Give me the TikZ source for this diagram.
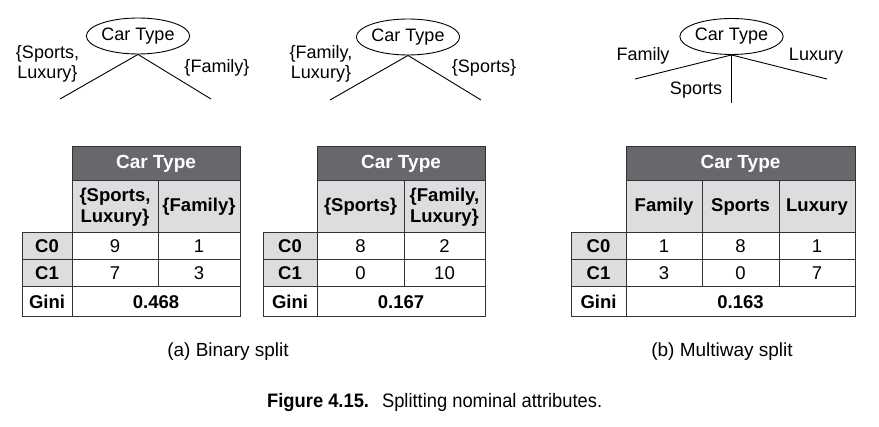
\documentclass[tikz,border=0pt]{standalone}
\usepackage{fontspec}
\setmainfont{Liberation Sans}
\newfontfamily\capfont[FakeStretch=0.94]{Liberation Sans}
\usetikzlibrary{shapes.geometric}
\definecolor{hdr}{HTML}{67686C}
\definecolor{sub}{HTML}{DCDDDF}
\definecolor{bord}{HTML}{333333}
\newcommand\mkcell[7]{\node[#6, minimum width={(#4-#2)*1pt}, minimum height={(#5-#3)*1pt}] (#1) at ({(#2+#4)/2},{(#3+#5)/2}) {#7};}
\begin{document}
\begin{tikzpicture}[x=1pt,y=-1pt,
  lbl/.style={font=\fontsize{18}{20.5}\selectfont, align=center, inner sep=0},
  rootnode/.style={ellipse, draw, line width=0.9pt, minimum width=100pt, minimum height=36pt, inner sep=0, font=\fontsize{18}{20}\selectfont},
  branch/.style={line width=0.9pt},
  cellbox/.style={draw=bord, line width=1pt, inner sep=0, outer sep=0, align=center, font=\fontsize{18.5}{20.5}\selectfont},
  hd/.style={cellbox, fill=hdr, text=white, font=\bfseries\fontsize{19}{20.5}\selectfont},
  sb/.style={cellbox, fill=sub, font=\bfseries\fontsize{18.5}{20.5}\selectfont},
  rl/.style={cellbox, fill=sub, font=\bfseries\fontsize{18.5}{20.5}\selectfont},
  gl/.style={cellbox, fill=white, font=\bfseries\fontsize{18.5}{20.5}\selectfont},
  val/.style={cellbox, fill=white},
  gv/.style={cellbox, fill=white, font=\bfseries\fontsize{18.5}{20.5}\selectfont},
  captext/.style={inner sep=0, font=\fontsize{19}{21}\selectfont}
]
\useasboundingbox (0,0) rectangle (879,427);

% ---- Tree 1
\node[rootnode] (r1) at (138,36) {Car Type};
\coordinate (t1l) at (60,99);
\coordinate (t1r) at (211,99);
\draw[branch] (r1.south) -- (t1l);
\draw[branch] (r1.south) -- (t1r);
\node[lbl] (l1a) at (47.5,64) {\{Sports,\\Luxury\}};
\node[lbl] (l1b) at (217,68) {\{Family\}};

% ---- Tree 2
\node[rootnode] (r2) at (408,37) {Car Type};
\coordinate (t2l) at (330,100);
\coordinate (t2r) at (481,100);
\draw[branch] (r2.south) -- (t2l);
\draw[branch] (r2.south) -- (t2r);
\node[lbl] (l2a) at (321,64) {\{Family,\\Luxury\}};
\node[lbl] (l2b) at (484,68) {\{Sports\}};

% ---- Tree 3
\node[rootnode] (r3) at (731.5,36.5) {Car Type};
\coordinate (t3l) at (635,79);
\coordinate (t3r) at (827,79);
\coordinate (t3m) at (r3.south |- 0,103);
\draw[branch] (r3.south) -- (t3l);
\draw[branch] (r3.south) -- (t3r);
\draw[branch] (r3.south) -- (t3m);
\node[lbl] (l3a) at (643,56) {Family};
\node[lbl] (l3b) at (816,56) {Luxury};
\node[lbl] (l3c) at (696,90) {Sports};

% ---- Table 1
\mkcell{a-h}{72}{147}{240}{181}{hd}{Car Type}
\mkcell{a-s1}{72}{181}{158}{233}{sb}{\{Sports,\\Luxury\}}
\mkcell{a-s2}{158}{181}{240}{233}{sb}{\{Family\}}
\mkcell{a-c0}{22}{233}{72}{260}{rl}{C0}
\mkcell{a-c1}{22}{260}{72}{287}{rl}{C1}
\mkcell{a-g}{22}{287}{72}{317}{gl}{Gini}
\mkcell{a-v01}{72}{233}{158}{260}{val}{9}
\mkcell{a-v02}{158}{233}{240}{260}{val}{1}
\mkcell{a-v11}{72}{260}{158}{287}{val}{7}
\mkcell{a-v12}{158}{260}{240}{287}{val}{3}
\mkcell{a-gv}{72}{287}{240}{317}{gv}{0.468}

% ---- Table 2
\mkcell{b-h}{317}{147}{485}{181}{hd}{Car Type}
\mkcell{b-s1}{317}{181}{404}{233}{sb}{\{Sports\}}
\mkcell{b-s2}{404}{181}{485}{233}{sb}{\{Family,\\Luxury\}}
\mkcell{b-c0}{263}{233}{317}{260}{rl}{C0}
\mkcell{b-c1}{263}{260}{317}{287}{rl}{C1}
\mkcell{b-g}{263}{287}{317}{317}{gl}{Gini}
\mkcell{b-v01}{317}{233}{404}{260}{val}{8}
\mkcell{b-v02}{404}{233}{485}{260}{val}{2}
\mkcell{b-v11}{317}{260}{404}{287}{val}{0}
\mkcell{b-v12}{404}{260}{485}{287}{val}{10}
\mkcell{b-gv}{317}{287}{485}{317}{gv}{0.167}

% ---- Table 3
\mkcell{c-h}{626}{147}{855}{181}{hd}{Car Type}
\mkcell{c-s1}{626}{181}{702}{233}{sb}{Family}
\mkcell{c-s2}{702}{181}{779}{233}{sb}{Sports}
\mkcell{c-s3}{779}{181}{855}{233}{sb}{Luxury}
\mkcell{c-c0}{571}{233}{626}{260}{rl}{C0}
\mkcell{c-c1}{571}{260}{626}{287}{rl}{C1}
\mkcell{c-g}{571}{287}{626}{317}{gl}{Gini}
\mkcell{c-v01}{626}{233}{702}{260}{val}{1}
\mkcell{c-v02}{702}{233}{779}{260}{val}{8}
\mkcell{c-v03}{779}{233}{855}{260}{val}{1}
\mkcell{c-v11}{626}{260}{702}{287}{val}{3}
\mkcell{c-v12}{702}{260}{779}{287}{val}{0}
\mkcell{c-v13}{779}{260}{855}{287}{val}{7}
\mkcell{c-gv}{626}{287}{855}{317}{gv}{0.163}

% ---- Captions
\node[captext, anchor=base] (capa) at (228,357) {(a) Binary split};
\node[captext, anchor=base] (capb) at (722,357) {(b) Multiway split};
\node[inner sep=0, anchor=base west, font=\capfont\fontsize{19.5}{22}\selectfont] (fig) at (267,408) {{\bfseries Figure 4.15.}\hspace{13pt}Splitting nominal attributes.};
\end{tikzpicture}
\end{document}
